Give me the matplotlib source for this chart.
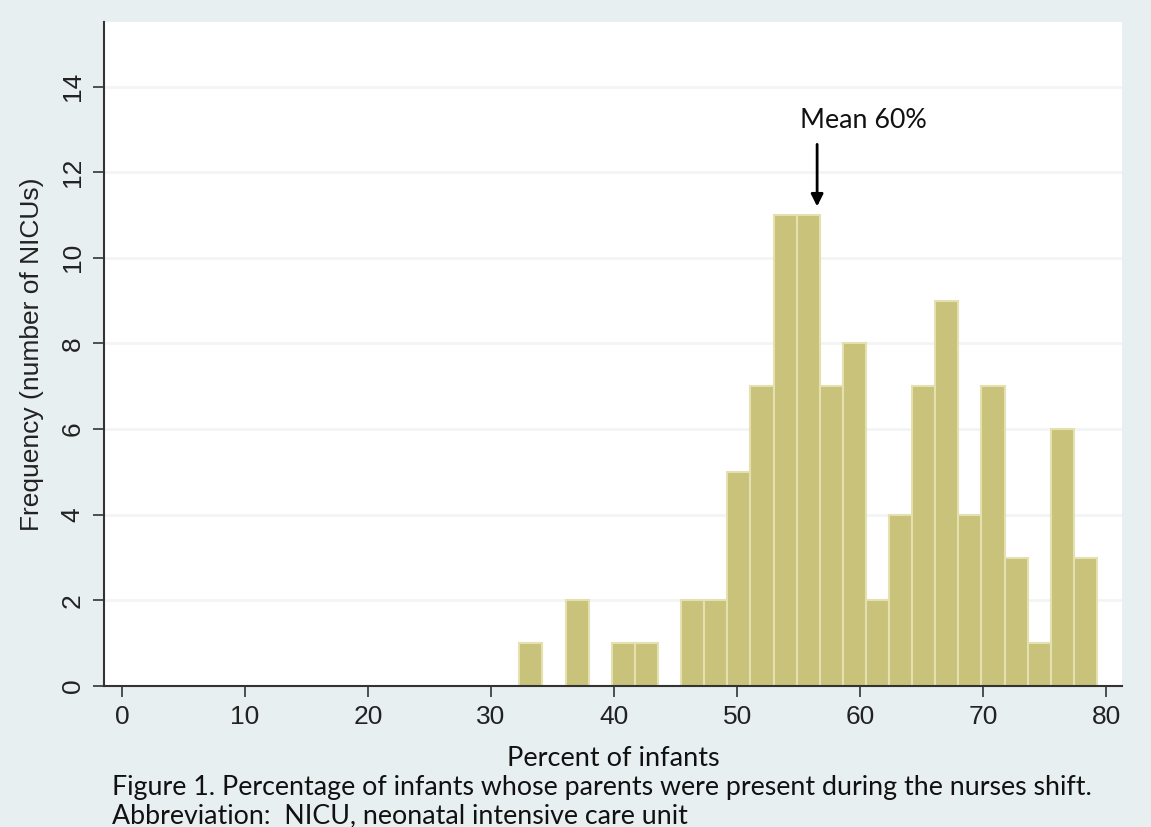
import numpy as np
import matplotlib
matplotlib.use("Agg")
import matplotlib.pyplot as plt

# histogram data (25 bins, 32.3 .. 79.25)
bin_start = 32.3
bin_end = 79.25
counts = [1, 0, 2, 0, 1, 1, 0, 2, 2, 5, 7, 11, 11, 7, 8, 2, 4, 7, 9, 4, 7, 3, 1, 6, 3]
xticks = [0, 10, 20, 30, 40, 50, 60, 70, 80]
yticks = [0, 2, 4, 6, 8, 10, 12, 14]

bg = "#e8eff0"
bar_color = "#c8c27a"
edge_color = "#e4e0b0"

edges = np.linspace(bin_start, bin_end, len(counts) + 1)
width = edges[1] - edges[0]

fig = plt.figure(figsize=(11.51, 8.27), dpi=100, facecolor=bg)
ax = fig.add_axes([0.0904, 0.1705, 0.8846, 0.8025])
ax.set_facecolor("white")

ax.bar(edges[:-1], counts, width=width, align="edge",
       color=bar_color, edgecolor=edge_color, linewidth=1.5, zorder=2)

ax.set_xlim(-1.46, 81.3)
ax.set_ylim(0, 15.5)
ax.set_xticks(xticks)
ax.set_yticks(yticks)
ax.grid(axis="y", color="#f3f4f4", linewidth=2, zorder=0)

for s in ["top", "right"]:
    ax.spines[s].set_visible(False)
for s in ["left", "bottom"]:
    ax.spines[s].set_color("#333333")
    ax.spines[s].set_linewidth(1.5)

ax.tick_params(axis="both", length=8, width=1.2, color="#333333",
               labelsize=19, labelcolor="#222222")
ax.tick_params(axis="x", pad=6)
for lab in ax.get_yticklabels():
    lab.set_rotation(90)
    lab.set_va("center")
ax.tick_params(axis="y", pad=6)

for lab in ax.get_xticklabels() + ax.get_yticklabels():
    lab.set_family("Liberation Sans")

ax.set_ylabel("Frequency (number of NICUs)", fontsize=19,
              family="Liberation Sans", color="#222222", labelpad=12)
ax.set_xlabel("Percent of infants", fontsize=19.5, family="Lato",
              color="#111111", labelpad=12)

# mean marker: vertical arrow and label above it
ax.annotate("", xy=(56.5, 11.2), xytext=(56.5, 12.65),
            arrowprops=dict(arrowstyle="-|>", color="black", lw=2,
                            shrinkA=0, shrinkB=0, mutation_scale=18))
ax.text(60.3, 13.2, "Mean 60%", ha="center", va="center",
        fontsize=19.3, family="Lato", color="#111111")

fig.text(0.097, 0.048,
         "Figure 1. Percentage of infants whose parents were present during the nurses shift.",
         fontsize=19.3, family="Lato", color="#111111", va="center")
fig.text(0.097, 0.013, "Abbreviation:  NICU, neonatal intensive care unit",
         fontsize=19.3, family="Lato", color="#111111", va="center")

fig.savefig("out.png", dpi=100, facecolor=bg)
